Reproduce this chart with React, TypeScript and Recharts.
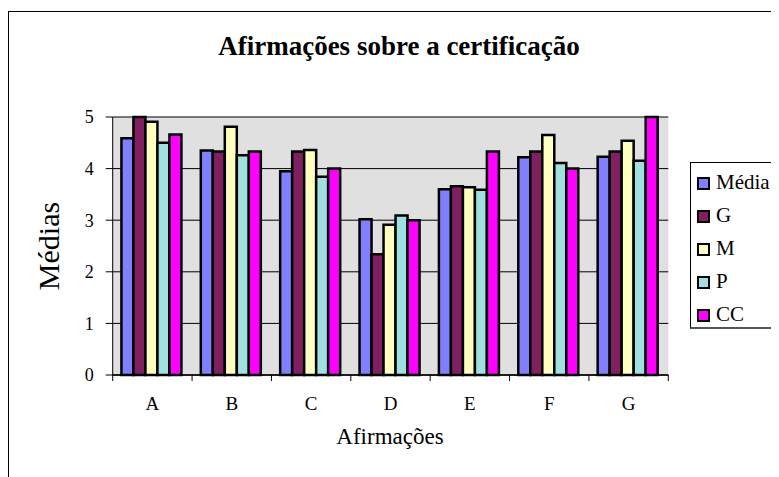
import React from 'react';
import { BarChart, Bar, XAxis, YAxis, CartesianGrid, Legend } from 'recharts';

const categories = ['A', 'B', 'C', 'D', 'E', 'F', 'G'];
const media = [4.59, 4.35, 3.95, 3.02, 3.6, 4.22, 4.23];
const gValues = [5.0, 4.33, 4.33, 2.34, 3.66, 4.33, 4.33];
const mValues = [4.91, 4.81, 4.36, 2.91, 3.64, 4.65, 4.54];
const pValues = [4.5, 4.26, 3.84, 3.09, 3.59, 4.11, 4.15];
const ccValues = [4.66, 4.33, 4.0, 3.0, 4.33, 4.0, 5.0];
const yTicks = [0, 1, 2, 3, 4, 5];

const seriesNames = ['Média', 'G', 'M', 'P', 'CC'];
const seriesColors = ['#8080FF', '#802060', '#FFFFC0', '#A0E0E0', '#FF00FF'];
const seriesValues = [media, gValues, mValues, pValues, ccValues];

const data = categories.map((name, i) => {
  const row: Record<string, string | number> = { name };
  seriesNames.forEach((s, k) => {
    row[s] = seriesValues[k][i];
  });
  return row;
});

const FONT = '"Liberation Serif", "Times New Roman", serif';

const XTick = (props: any) => {
  const { x, y, payload, index, visibleTicksCount } = props;
  const half = payload && payload.offset ? payload.offset : 0;
  const axisY = y - 22;
  const isLast = index === visibleTicksCount - 1;
  return (
    <g>
      <line x1={x - half} x2={x - half} y1={axisY} y2={axisY + 6} stroke="#000" strokeWidth={1} />
      {isLast && <line x1={x + half} x2={x + half} y1={axisY} y2={axisY + 6} stroke="#000" strokeWidth={1} />}
      <text x={x} y={y} dy="0.71em" textAnchor="middle" fontFamily={FONT} fontSize={19} fill="#000">
        {payload.value}
      </text>
    </g>
  );
};

const LegendContent = () => {
  return (
    <div
      style={{
        width: 100,
        height: 167,
        boxSizing: 'border-box',
        border: '1px solid #000',
        borderBottom: '2px solid #555',
        background: '#fff',
        paddingTop: 3,
        fontFamily: FONT,
      }}
    >
      {seriesNames.map((name, k) => (
        <div key={name} style={{ height: 33, position: 'relative' }}>
          <div
            style={{
              position: 'absolute',
              left: 6,
              top: 11,
              width: 9,
              height: 9,
              border: '2px solid #000',
              background: seriesColors[k],
            }}
          />
          <span style={{ position: 'absolute', left: 25, top: 0, fontSize: 21, color: '#000', lineHeight: '33px' }}>
            {name}
          </span>
        </div>
      ))}
    </div>
  );
};

export default function App() {
  return (
    <div style={{ position: 'relative', width: 771, height: 469, overflow: 'hidden', background: '#fff' }}>
      <div
        style={{
          position: 'absolute',
          left: 0,
          top: 3,
          width: 800,
          height: 500,
          borderLeft: '1px solid #000',
          borderTop: '1px solid #000',
          boxSizing: 'border-box',
        }}
      />
      <div
        style={{
          position: 'absolute',
          left: 91,
          width: 600,
          top: 22,
          textAlign: 'center',
          fontFamily: FONT,
          fontWeight: 'bold',
          fontSize: 27,
          lineHeight: '32px',
          color: '#000',
        }}
      >
        Afirmações sobre a certificação
      </div>
      <div
        style={{
          position: 'absolute',
          left: 41 - 70,
          top: 238 - 18,
          width: 140,
          height: 36,
          lineHeight: '36px',
          textAlign: 'center',
          transform: 'rotate(-90deg)',
          fontFamily: FONT,
          fontSize: 30,
          color: '#000',
        }}
      >
        Médias
      </div>
      <div
        style={{
          position: 'absolute',
          left: 382 - 100,
          width: 200,
          top: 429 - 14,
          lineHeight: '28px',
          textAlign: 'center',
          fontFamily: FONT,
          fontSize: 23,
          color: '#000',
        }}
      >
        Afirmações
      </div>
      <div style={{ position: 'absolute', left: 0, top: 0 }}>
        <BarChart
          width={771}
          height={469}
          data={data}
          margin={{ top: 109, right: 110.7, bottom: 42, left: 0 }}
          barCategoryGap="11%"
          barGap={0}
        >
          <CartesianGrid vertical={false} fill="#E0E0E0" fillOpacity={1} stroke="#000" strokeWidth={1} />
          <XAxis
            dataKey="name"
            xAxisId={0}
            height={60}
            tickSize={0}
            tickMargin={22}
            tick={<XTick />}
            axisLine={{ stroke: '#000', strokeWidth: 1.5 }}
            tickLine={false}
            interval={0}
          />
          <XAxis
            dataKey="name"
            xAxisId="top"
            orientation="top"
            height={0}
            tick={false}
            tickLine={false}
            axisLine={{ stroke: '#808080', strokeWidth: 2 }}
          />
          <YAxis
            yAxisId={0}
            width={104.7}
            domain={[0, 5]}
            ticks={yTicks}
            interval={0}
            tickSize={7}
            tickMargin={12}
            tickLine={{ stroke: '#000' }}
            axisLine={{ stroke: '#000' }}
            tick={{ fontFamily: FONT, fontSize: 18, fill: '#000' }}
          />
          <YAxis
            yAxisId="right"
            orientation="right"
            width={0}
            domain={[0, 5]}
            tick={false}
            tickLine={false}
            axisLine={{ stroke: '#808080', strokeWidth: 2 }}
          />
          <Legend
            layout="vertical"
            align="center"
            verticalAlign="middle"
            content={<LegendContent />}
            wrapperStyle={{ position: 'absolute', left: 682, top: 154, width: 100, height: 167 }}
          />
          {seriesNames.map((s, k) => (
            <Bar
              key={s}
              dataKey={s}
              name={s}
              fill={seriesColors[k]}
              stroke="#000"
              strokeWidth={2.5}
              isAnimationActive={false}
              xAxisId={0}
              yAxisId={0}
            />
          ))}
        </BarChart>
      </div>
    </div>
  );
}
